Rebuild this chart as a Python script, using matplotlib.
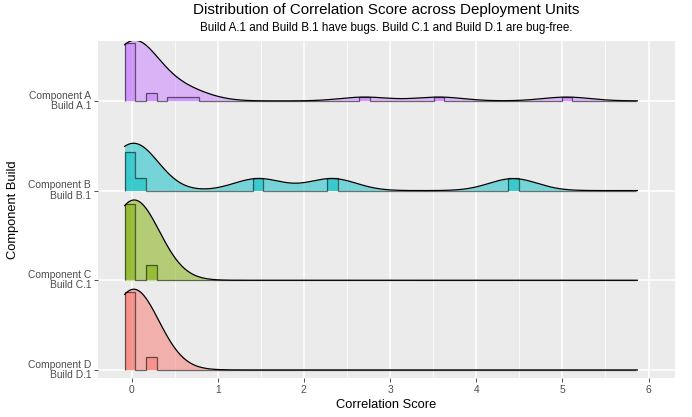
import numpy as np
import matplotlib.pyplot as plt

plt.rcParams['font.family'] = ['Liberation Sans', 'DejaVu Sans']

# ridges, bottom to top
builds = ["Component D\nBuild D.1", "Component C\nBuild C.1",
          "Component B\nBuild B.1", "Component A\nBuild A.1"]
colors = ["#F8766D", "#7CAE00", "#00BFC4", "#C77CFF"]

# correlation scores per build
scores_d = [0.0, 0.0, 0.0, 0.0, 0.0, 0.0, 0.23]
scores_c = [0.0, 0.0, 0.0, 0.0, 0.0, 0.23]
scores_b = [0.0, 0.0, 0.0, 0.10, 1.47, 2.33, 4.43]
scores_a = [0.0, 0.0, 0.0, 0.0, 0.0, 0.0, 0.0, 0.0, 0.0, 0.0, 0.0, 0.0, 0.0, 0.0,
            0.23, 0.23, 0.48, 0.60, 0.72, 2.70, 3.57, 5.05]
all_scores = [scores_d, scores_c, scores_b, scores_a]

x_ticks = [0, 1, 2, 3, 4, 5, 6]

# density grid / bins like ggridges
grid = np.linspace(-0.08, 5.87, 512)
bw = 0.28
binw = 0.1237
edges = -0.08 + binw * np.arange(49)


def kde(vals):
    v = np.asarray(vals)
    z = (grid[:, None] - v[None, :]) / bw
    return np.exp(-0.5 * z ** 2).sum(axis=1) / (len(v) * bw * np.sqrt(2 * np.pi))


dens = [kde(s) for s in all_scores]
hists = [np.histogram(s, edges)[0] / (len(s) * binw) for s in all_scores]
dmax = max(d.max() for d in dens)
hmax = max(h.max() for h in hists)

fig = plt.figure(figsize=(6.92, 4.17), dpi=100)
ax = fig.add_axes([98 / 692, 1 - 378 / 417, 577 / 692, 337 / 417])
ax.set_facecolor("#EBEBEB")
for s in ax.spines.values():
    s.set_visible(False)

ax.set_xlim(-0.389, 6.307)
ax.set_ylim(-0.09, 3.668)
ax.set_xticks(x_ticks)
ax.set_xticks(np.arange(0.5, 6.5, 1), minor=True)
ax.set_yticks(range(len(builds)))
ax.set_yticklabels(builds, ha="right", va="center", multialignment="right",
                   linespacing=1.05)
ax.grid(True, which="major", color="white", lw=1.1)
ax.grid(True, which="minor", axis="x", color="white", lw=0.55)
ax.set_axisbelow(True)
ax.tick_params(which="major", length=3, width=0.6, color="#333333",
               labelsize=7.4, labelcolor="#4D4D4D", pad=2)
ax.tick_params(which="minor", length=0)

for i, (d, h, c) in enumerate(zip(dens, hists, colors)):
    zo = 10 - i
    ax.fill_between(grid, i, i + d / dmax * 0.9, color=c, alpha=0.5, lw=0, zorder=zo)
    hh = i + h / hmax * 0.87
    ax.stairs(hh, edges, baseline=i, fill=True, color=c, alpha=0.5, lw=0, zorder=zo)
    ax.stairs(hh, edges, baseline=i, color="black", alpha=0.55, lw=0.9, zorder=zo)
    ax.plot(grid, i + d / dmax * 0.9, color="black", lw=0.9, zorder=zo)

ax.set_xlabel("Correlation Score", fontsize=9.3, labelpad=3)
ax.set_ylabel("Component Build", fontsize=9.3, labelpad=6)

fig.text(386 / 692, 1 - 10 / 417, "Distribution of Correlation Score across Deployment Units",
         ha="center", va="center", fontsize=10.9)
fig.text(386 / 692, 1 - 28 / 417,
         "Build A.1 and Build B.1 have bugs. Build C.1 and Build D.1 are bug-free.",
         ha="center", va="center", fontsize=8.4)

fig.savefig("out.png", dpi=100)
